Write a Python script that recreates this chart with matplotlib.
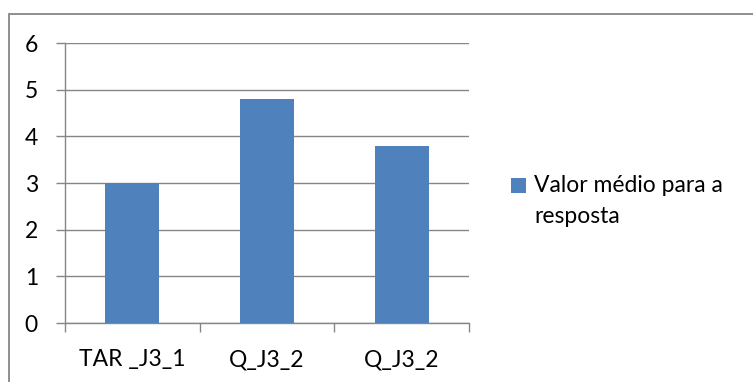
import matplotlib.pyplot as plt
from matplotlib.patches import Rectangle

# category labels and mean values
categorias = ['TAR _J3_1', 'Q_J3_2', 'Q_J3_2']
valores = [3.0, 4.8, 3.8]
legenda = 'Valor médio para a\nresposta'

plt.rcParams['font.family'] = ['Lato', 'DejaVu Sans']
fs = 16.5

W, H = 753, 382
fig = plt.figure(figsize=(W / 100, H / 100), dpi=100)

# outer chart frame (right and bottom edges fall outside the image)
fig.patches.append(Rectangle((9 / W, -0.1), 2.0, (H - 14) / H + 0.1,
                             transform=fig.transFigure, fill=False,
                             edgecolor='#868686', linewidth=1.3))

ax = fig.add_axes([65 / W, (H - 323) / H, (469 - 65) / W, (323 - 43) / H])

x = range(len(categorias))
ax.bar(x, valores, width=0.4, color='#4F81BD', zorder=3, label=legenda)

ax.set_xlim(-0.5, len(categorias) - 0.5)
ax.set_ylim(0, 6)
ax.set_yticks(range(0, 7))
ax.yaxis.grid(True, color='#868686', linewidth=1.0, zorder=0)

for s in ['top', 'right']:
    ax.spines[s].set_visible(False)
for s in ['left', 'bottom']:
    ax.spines[s].set_color('#868686')
    ax.spines[s].set_linewidth(1.0)

# category ticks sit between the bars
ax.set_xticks([i - 0.5 for i in range(len(categorias) + 1)])
ax.set_xticklabels([])
ax.set_xticks(list(x), minor=True)
ax.set_xticklabels(categorias, minor=True, fontsize=fs)
ax.tick_params(axis='x', which='major', length=6.5, color='#868686', width=1.0)
ax.tick_params(axis='x', which='minor', length=0, pad=19)
ax.tick_params(axis='y', length=6.5, color='#868686', width=1.0, labelsize=fs, pad=13)

leg = fig.legend(loc='center left', bbox_to_anchor=(495 / W, (H - 201) / H),
                 frameon=False, fontsize=fs, handlelength=0.65, handleheight=0.65,
                 handletextpad=0.35, borderpad=0.2)
for t in leg.get_texts():
    t.set_linespacing(1.55)
# put the swatch beside the first line of the label
h = leg.legend_handles[0]
h.set_y(h.get_y() + 11.5)

fig.savefig('out.png', dpi=100)
